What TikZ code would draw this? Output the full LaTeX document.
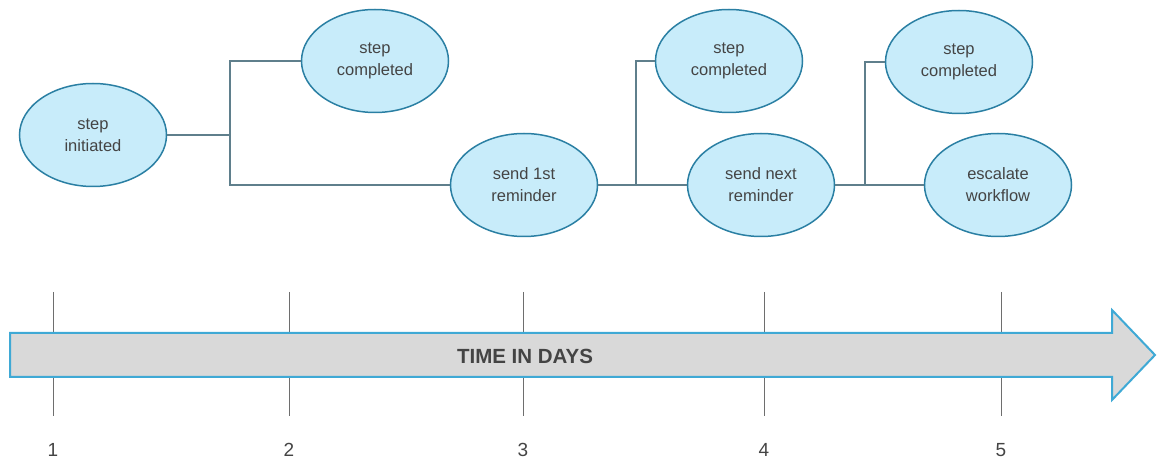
\documentclass[tikz,border=0pt]{standalone}
\usepackage{fontspec}
\setmainfont{Liberation Sans}
\usetikzlibrary{shapes.geometric}
\definecolor{efill}{HTML}{C8ECFA}
\definecolor{edraw}{HTML}{2A7FA3}
\definecolor{lcol}{HTML}{5F7F8C}
\definecolor{tcol}{HTML}{444444}
\definecolor{afill}{HTML}{D9D9D9}
\definecolor{adraw}{HTML}{3FA9D5}
\definecolor{tickcol}{HTML}{6E6E6E}
\begin{document}
\begin{tikzpicture}[x=1pt,y=-1pt,
  ev/.style={ellipse, draw=edraw, line width=1.5pt, fill=efill,
    minimum width=147pt, minimum height=103pt, inner sep=0pt,
    align=center, text=tcol, font=\fontsize{16.5}{22}\selectfont},
  conn/.style={draw=lcol, line width=1.5pt},
  tickline/.style={draw=tickcol, line width=1pt},
  daylabel/.style={text=tcol, font=\fontsize{19}{20}\selectfont},
  timearrow/.style={fill=afill, draw=adraw, line width=2pt, line join=miter}]
\useasboundingbox (0,0) rectangle (1160,470);

% ticks
\foreach \x/\n in {53/1,289/2,523/3,764/4,1001/5}{
  \draw[tickline] (\x,292) -- (\x,416);
  \node[daylabel] (d\n) at (\x,450) {\n};
}
% time arrow
\draw[timearrow] (10,333) -- (1112,333) -- (1112,310) -- (1155,355)
  -- (1112,400) -- (1112,377) -- (10,377) -- cycle;
\node[text=tcol, font=\bfseries\fontsize{20.5}{22}\selectfont] (time) at (525,356) {TIME IN DAYS};

% ellipses
\node[ev] (init) at (93,135) {step\\initiated};
\node[ev] (c1) at (375,61) {step\\completed};
\node[ev] (r1) at (524,185) {send 1st\\reminder};
\node[ev] (c2) at (729,61) {step\\completed};
\node[ev] (r2) at (761,185) {send next\\reminder};
\node[ev] (c3) at (959,62) {step\\completed};
\node[ev] (esc) at (998,185) {escalate\\workflow};

% connectors
\coordinate (j1) at (230,135);
\coordinate (j2) at (636,185);
\coordinate (j3) at (865,185);
\draw[conn] (init.east) -- (j1);
\draw[conn] (j1) |- (c1.west);
\draw[conn] (j1) |- (r1.west);
\draw[conn] (r1.east) -- (r2.west);
\draw[conn] (j2) |- (c2.west);
\draw[conn] (r2.east) -- (esc.west);
\draw[conn] (j3) |- (c3.west);
\end{tikzpicture}
\end{document}
